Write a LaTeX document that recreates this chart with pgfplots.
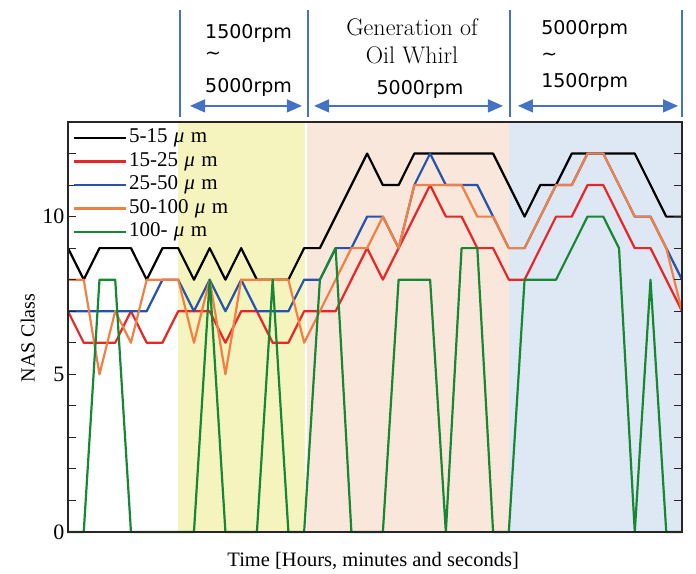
\documentclass[border=0pt]{standalone}
\usepackage{fontspec}
\usepackage{pgfplots}
\usepackage{pgfplotstable}
\pgfplotsset{compat=1.18}
\usetikzlibrary{arrows.meta}
\newfontfamily\tnr{Liberation Serif}
\newfontfamily\dvs{DejaVu Sans}
\definecolor{cRed}{RGB}{232,38,38}
\definecolor{cBlue}{RGB}{38,84,172}
\definecolor{cOrange}{RGB}{242,128,68}
\definecolor{cGreen}{RGB}{22,136,52}
\definecolor{shY}{RGB}{245,244,190}
\definecolor{shP}{RGB}{249,231,220}
\definecolor{shB}{RGB}{222,232,244}
\definecolor{annBlue}{RGB}{68,114,196}
\newcommand{\um}{\hspace{0.3em}\textit{μ}\hspace{0.3em}m}
\pgfplotstableread{
i  black red blue orange green
0  9  7  7  8  0
1  8  6  7  8  0
2  9  6  7  5  8
3  9  6  7  7  8
4  9  7  7  6  0
5  8  6  7  8  0
6  9  6  8  8  0
7  9  7  8  8  0
8  8  7  7  6  0
9  9  7  8  8  8
10 8  6  7  5  0
11 9  7  8  8  0
12 8  7  7  8  0
13 8  6  7  8  8
14 8  6  7  8  0
15 9  7  8  6  0
16 9  7  8  7  8
17 10 7  9  8  9
18 11 8  9  9  0
19 12 9  10 9  0
20 11 8  10 10 0
21 11 9  9  9  8
22 12 10 11 11 8
23 12 11 12 11 8
24 12 10 11 11 0
25 12 10 11 11 9
26 12 9  11 10 9
27 12 9  10 10 0
28 11 8  9  9  0
29 10 8  9  9  8
30 11 9  10 10 8
31 11 10 11 11 8
32 12 10 11 11 9
33 12 11 12 12 10
34 12 11 12 12 10
35 12 10 11 11 9
36 12 9  10 10 0
37 11 9  10 10 8
38 10 8  9  9  0
39 10 7  8  7  0
}\nasdata
\begin{document}
\begin{tikzpicture}
\begin{axis}[
  scale only axis, width=614pt, height=410pt,
  xmin=0, xmax=39, ymin=0, ymax=13,
  xtick=\empty,
  ytick={0,5,10}, minor ytick={1,2,3,4,6,7,8,9,11,12},
  ytick pos=both,
  tick align=inside, major tick length=8pt, minor tick length=8pt,
  axis on top,
  axis line style={line width=1.2pt, black!85},
  every tick/.style={line width=1.1pt, black!85},
  /pgf/number format/assume math mode=true,
  yticklabel style={font=\tnr\fontsize{22}{24}\selectfont},
  xlabel={Time [Hours, minutes and seconds]},
  ylabel={NAS Class},
  xlabel style={font=\tnr\fontsize{20.5}{24}\selectfont, inner sep=2pt, at={(rel axis cs:0.497,0)}, anchor=north, yshift=-18pt},
  ylabel style={font=\tnr\fontsize{20}{24}\selectfont, inner sep=2pt, at={(rel axis cs:-0.0505,0.473)}, anchor=south},
  clip=false,
  legend style={at={(rel axis cs:0,1)}, anchor=north west, xshift=5pt, yshift=-4pt,
    draw=none, fill=none, inner sep=0pt, row sep=0pt,
    font=\tnr\fontsize{21}{23}\selectfont,
    nodes={text height=15pt, text depth=5pt, inner sep=1.75pt}},
  legend cell align=left,
  legend image code/.code={\draw[#1, line width=2.2pt] (0pt,0pt) -- (52pt,0pt);},
  every axis plot/.append style={line width=2.2pt, line join=round},
]
\fill[shY] (axis cs:7,0) rectangle (axis cs:15.05,13);
\fill[shP] (axis cs:15.2,0) rectangle (axis cs:28,13);
\fill[shB] (axis cs:28,0) rectangle (axis cs:39,13);
\addplot[black] table[x=i,y=black] {\nasdata};
\addlegendentry{5-15\um}
\addplot[cRed] table[x=i,y=red] {\nasdata};
\addlegendentry{15-25\um}
\addplot[cBlue] table[x=i,y=blue] {\nasdata};
\addlegendentry{25-50\um}
\addplot[cOrange] table[x=i,y=orange] {\nasdata};
\addlegendentry{50-100\um}
\addplot[cGreen] table[x=i,y=green] {\nasdata};
\addlegendentry{100-\um}
% top annotations
\draw[annBlue, line width=2.2pt] (axis cs:7.1,13.16) -- (axis cs:7.1,16.55);
\draw[annBlue, line width=2.2pt] (axis cs:15.25,13.16) -- (axis cs:15.25,16.55);
\draw[annBlue, line width=2.2pt] (axis cs:28.05,13.16) -- (axis cs:28.05,16.55);
\draw[annBlue, line width=2.2pt] (axis cs:39,13.16) -- (axis cs:39,16.55);
\draw[annBlue, line width=1.3pt, {Triangle[length=15pt,width=13pt]}-{Triangle[length=15pt,width=13pt]}] (axis cs:7.75,13.51) -- (axis cs:14.86,13.51);
\draw[annBlue, line width=1.3pt, {Triangle[length=15pt,width=13pt]}-{Triangle[length=15pt,width=13pt]}] (axis cs:15.63,13.51) -- (axis cs:27.63,13.51);
\draw[annBlue, line width=1.3pt, {Triangle[length=15pt,width=13pt]}-{Triangle[length=15pt,width=13pt]}] (axis cs:28.58,13.51) -- (axis cs:38.75,13.51);
\node[anchor=base west, font=\dvs\fontsize{19}{22}\selectfont, inner sep=0pt] at (axis cs:8.7,15.66) {1500rpm};
\node[anchor=base west, font=\dvs\fontsize{19}{22}\selectfont, inner sep=0pt] at (axis cs:8.7,14.97) {\textasciitilde};
\node[anchor=base west, font=\dvs\fontsize{19}{22}\selectfont, inner sep=0pt] at (axis cs:8.7,13.92) {5000rpm};
\node[anchor=base, font=\dvs\fontsize{19}{22}\selectfont, inner sep=0pt] at (axis cs:22.36,13.86) {5000rpm};
\node[anchor=base west, font=\dvs\fontsize{19}{22}\selectfont, inner sep=0pt] at (axis cs:30.05,15.76) {5000rpm};
\node[anchor=base west, font=\dvs\fontsize{19}{22}\selectfont, inner sep=0pt] at (axis cs:30.05,14.94) {\textasciitilde};
\node[anchor=base west, font=\dvs\fontsize{19}{22}\selectfont, inner sep=0pt] at (axis cs:30.05,14.08) {1500rpm};
\node[anchor=base, font=\fontsize{24}{28}\selectfont, inner sep=0pt] at (axis cs:21.85,15.73) {Generation of};
\node[anchor=base, font=\fontsize{24}{28}\selectfont, inner sep=0pt] at (axis cs:21.85,14.84) {Oil Whirl};
\path ([xshift=-68pt,yshift=-42pt]rel axis cs:0,0) rectangle ([xshift=14pt,yshift=122pt]rel axis cs:1,1);
\end{axis}
\end{tikzpicture}
\end{document}
